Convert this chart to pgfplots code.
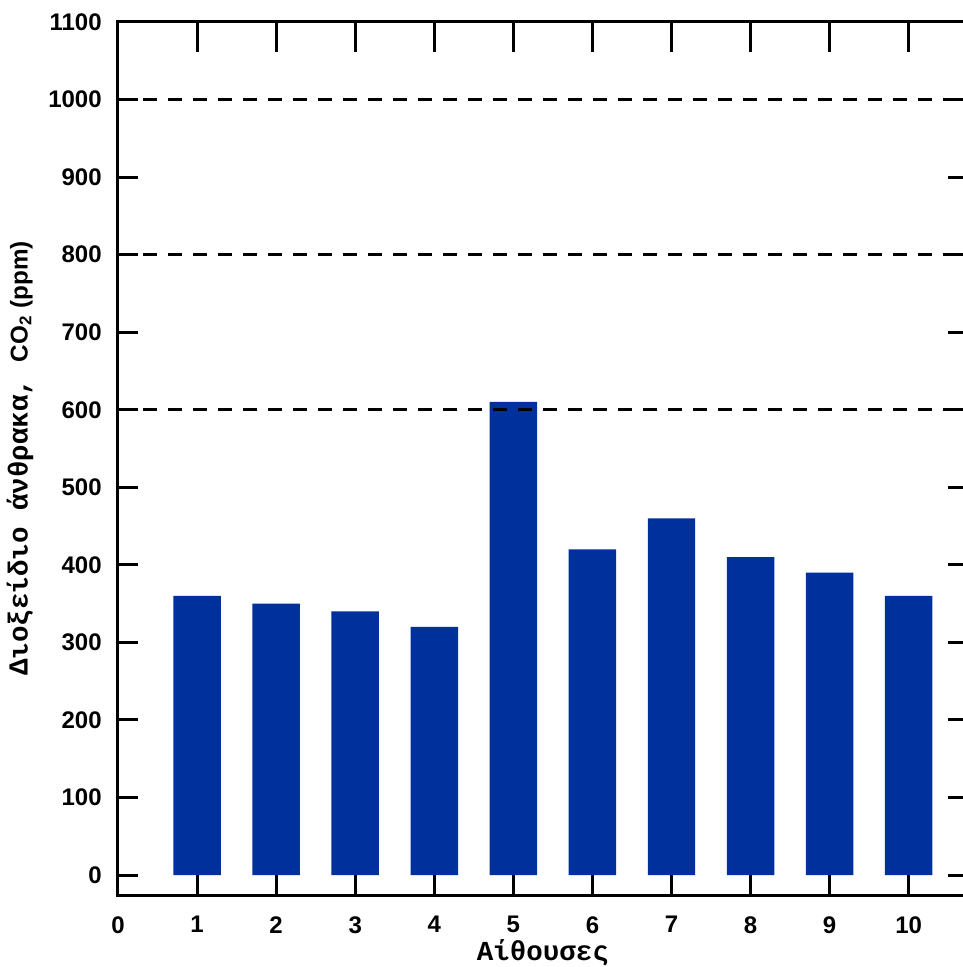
\documentclass[border=0pt]{standalone}
\usepackage{fontspec}
\setmainfont{Liberation Sans}
\newfontfamily\mono{Liberation Mono}
\usepackage{pgfplots}
\pgfplotsset{compat=1.18}
\definecolor{barblue}{RGB}{0,48,155}
\begin{document}
\begin{tikzpicture}
\begin{axis}[
  scale only axis, width=340pt, height=349.2pt,
  xmin=0, xmax=10.75, ymin=-25.7, ymax=1100,
  xtick={0,...,10}, ytick={0,100,...,1100},
  xtick pos=bottom, ytick pos=both,
  tick align=inside,
  major tick length=8pt,
  tick style={line width=1.2pt, black},
  axis line style={line width=1.2pt, black},
  /pgf/number format/assume math mode=true,
  /pgf/number format/1000 sep={},
  ticklabel style={font=\bfseries\fontsize{9.6}{11}\selectfont},
  yticklabel style={xshift=-3pt},
  xticklabel style={yshift=-5pt},
  xlabel={\mono\bfseries\fontsize{11}{13}\selectfont Αίθουσες},
  xlabel style={at={(axis description cs:0.5,0)}, anchor=center, yshift=-23.2pt},
  ylabel={{\mono\bfseries\fontsize{11}{13}\selectfont Διοξείδιο άνθρακα, }{\bfseries\fontsize{9.7}{11}\selectfont CO\textsubscript{2} (ppm)}},
  ylabel style={at={(axis description cs:0,0.5)}, anchor=center, yshift=39.2pt},
]
\addplot[ybar, bar width=0.6, fill=barblue, draw=none] coordinates {
  (1,360) (2,350) (3,340) (4,320) (5,610) (6,420) (7,460) (8,410) (9,390) (10,360)
};
\addplot[black, line width=1.2pt, dash pattern=on 5.6pt off 4.4pt, forget plot] coordinates {(0,600) (10.75,600)};
\addplot[black, line width=1.2pt, dash pattern=on 5.6pt off 4.4pt, forget plot] coordinates {(0,800) (10.75,800)};
\addplot[black, line width=1.2pt, dash pattern=on 5.6pt off 4.4pt, forget plot] coordinates {(0,1000) (10.75,1000)};
\end{axis}
\begin{axis}[
  scale only axis, width=340pt, height=349.2pt,
  xmin=0, xmax=10.75, ymin=-25.7, ymax=1100,
  axis x line*=top, axis y line=none,
  xtick={1,...,10}, xticklabels={},
  tick align=inside,
  major tick length=12pt,
  tick style={line width=1.2pt, black},
  axis line style={line width=1.2pt, black, -},
]
\end{axis}
\pgfresetboundingbox
\path[use as bounding box] (-47.2pt,-28.8pt) rectangle (337.6pt,358pt);
\end{tikzpicture}
\end{document}
